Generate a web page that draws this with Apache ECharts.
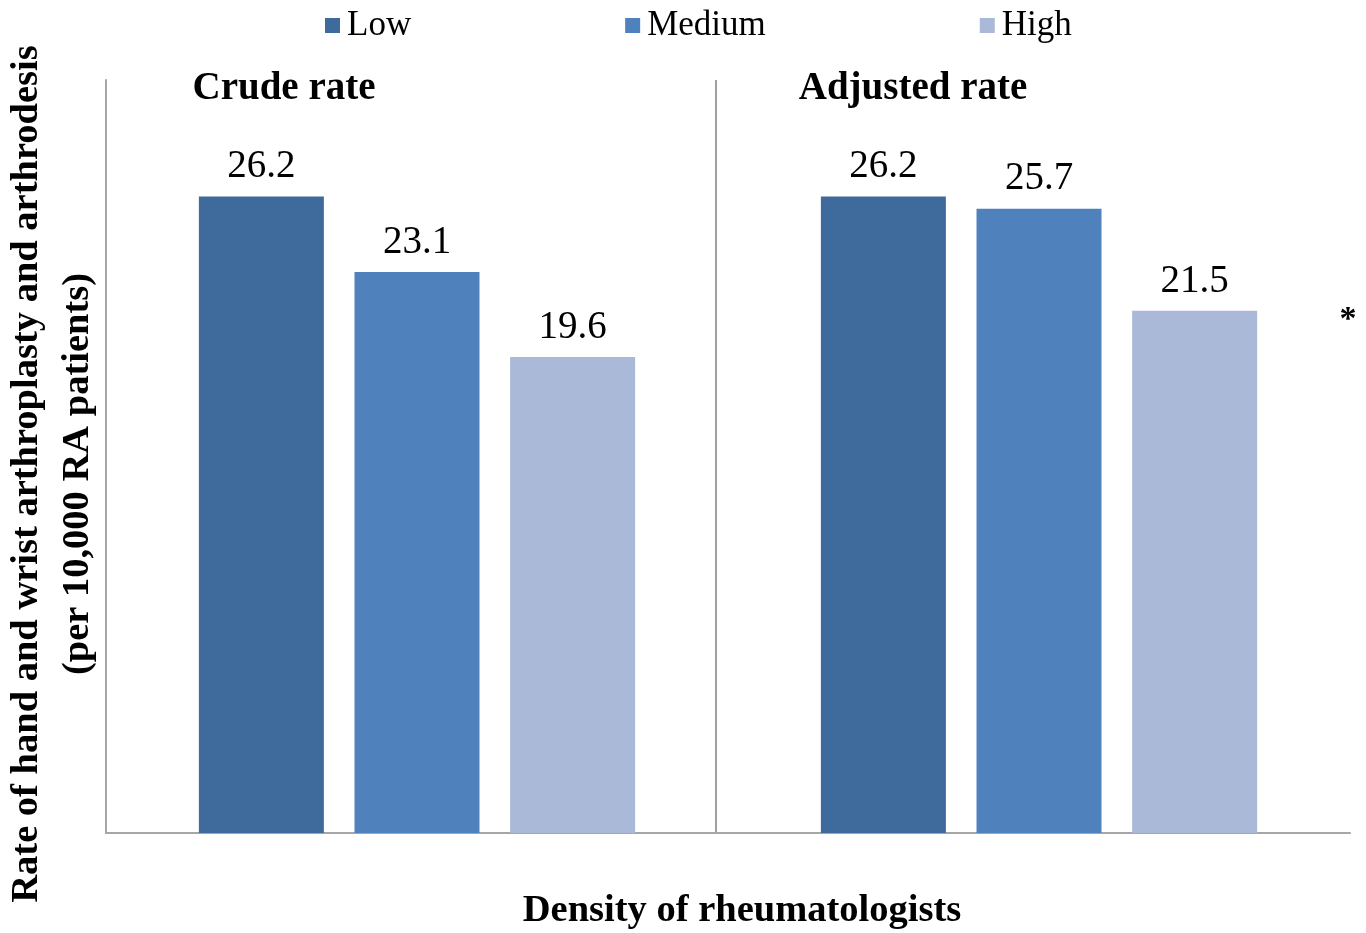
<!DOCTYPE html>
<html><head><meta charset="utf-8">
<script src="https://cdn.jsdelivr.net/npm/echarts@6/dist/echarts.min.js"></script>
<style>html,body{margin:0;padding:0;background:#fff}#c{width:1366px;height:933px}</style>
</head><body><div id="c"></div>
<script>
const categories = ['Crude rate', 'Adjusted rate'];
const seriesNames = ['Low', 'Medium', 'High'];
const lowValues = [26.2, 26.2];
const mediumValues = [23.1, 25.7];
const highValues = [19.6, 21.5];
const colors = ['#3F6A9C', '#4F81BD', '#AAB9D7'];
const serif = '"Liberation Serif", "Times New Roman", serif';

const chart = echarts.init(document.getElementById('c'));
const labelCfg = {show: true, position: 'top', distance: 10, color: '#000', fontFamily: serif, fontSize: 39,
  formatter: p => p.value.toFixed(1)};
const mk = (name, data, i) => ({
  name, type: 'bar', data, barWidth: 125, barGap: '24.5%',
  itemStyle: {color: colors[i]}, label: labelCfg
});
chart.setOption({
  animation: false,
  color: colors,
  grid: {left: 106, right: 16, top: 80, bottom: 100, containLabel: false},
  legend: {
    top: 3, left: 320, itemWidth: 15, itemHeight: 15, itemGap: 214,
    icon: 'rect',
    textStyle: {fontFamily: serif, fontSize: 35, color: '#000', padding: [0, 0, 0, 2]},
    data: seriesNames
  },
  xAxis: {
    type: 'category', data: categories,
    axisLine: {show: true, lineStyle: {color: '#A6A6A6', width: 2}},
    axisTick: {show: false}, axisLabel: {show: false}
  },
  yAxis: {
    type: 'value', min: 0, max: 31,
    axisLine: {show: true, lineStyle: {color: '#A6A6A6', width: 2}},
    axisTick: {show: false}, axisLabel: {show: false}, splitLine: {show: false}
  },
  series: [mk(seriesNames[0], lowValues, 0), mk(seriesNames[1], mediumValues, 1), mk(seriesNames[2], highValues, 2)],
  graphic: [
    {type: 'line', shape: {x1: 716, y1: 80, x2: 716, y2: 833}, style: {stroke: '#808080', lineWidth: 1.5}},
    {type: 'text', x: 284, y: 89, style: {text: categories[0], font: 'bold 39px ' + serif, fill: '#000', textAlign: 'center', textVerticalAlign: 'middle'}},
    {type: 'text', x: 913, y: 89, style: {text: categories[1], font: 'bold 39px ' + serif, fill: '#000', textAlign: 'center', textVerticalAlign: 'middle'}},
    {type: 'text', x: 1348, y: 320, style: {text: '*', font: 'bold 34px ' + serif, fill: '#000', textAlign: 'center', textVerticalAlign: 'middle'}},
    {type: 'text', x: 742, y: 911, style: {text: 'Density of rheumatologists', font: 'bold 38.5px ' + serif, fill: '#000', textAlign: 'center', textVerticalAlign: 'middle'}},
    {type: 'text', x: 27, y: 474, rotation: Math.PI / 2, style: {text: 'Rate of hand and wrist arthroplasty and arthrodesis', font: 'bold 38.5px ' + serif, fill: '#000', textAlign: 'center', textVerticalAlign: 'middle'}},
    {type: 'text', x: 78, y: 474, rotation: Math.PI / 2, style: {text: '(per 10,000 RA patients)', font: 'bold 38.5px ' + serif, fill: '#000', textAlign: 'center', textVerticalAlign: 'middle'}}
  ]
});
</script></body></html>
